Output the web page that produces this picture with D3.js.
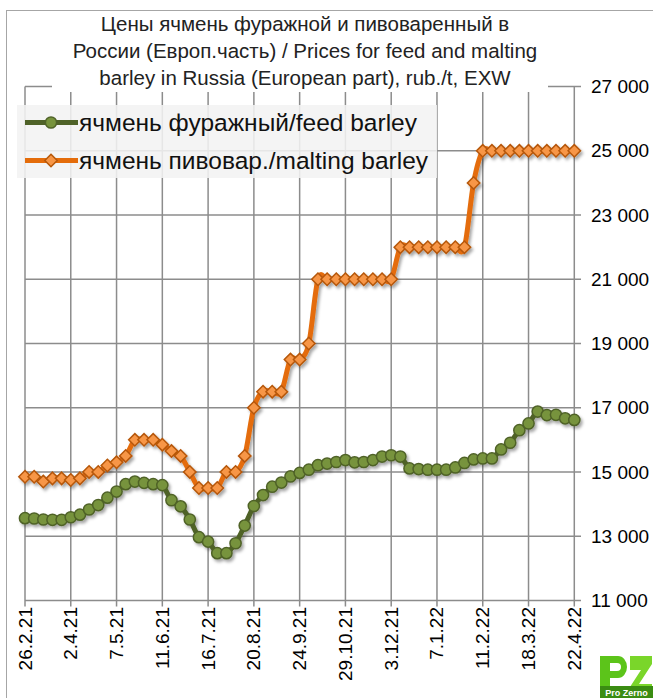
<!DOCTYPE html>
<html><head><meta charset="utf-8">
<script src="https://cdn.jsdelivr.net/npm/d3@7"></script>
<style>
html,body{margin:0;padding:0;background:#fff;}
svg{display:block;font-family:"Liberation Sans",Arial,sans-serif;}
</style></head>
<body><svg id="chart" width="653" height="698"></svg>
<script>
// ---- data (weekly, 26.2.21 .. 22.4.22) ----
const tickLabels = ["26.2.21","2.4.21","7.5.21","11.6.21","16.7.21","20.8.21","24.9.21","29.10.21","3.12.21","7.1.22","11.2.22","18.3.22","22.4.22"];
const feedBarley = [13560,13550,13520,13510,13510,13590,13670,13830,13970,14200,
  14390,14620,14700,14660,14620,14590,14120,13930,13520,12970,
  12830,12470,12470,12780,13330,13940,14280,14540,14670,14860,
  14970,15070,15210,15260,15310,15370,15300,15310,15370,15480,
  15520,15480,15110,15090,15070,15070,15070,15140,15280,15390,
  15420,15420,15700,15910,16300,16510,16880,16770,16780,16670,16620];
const maltingBarley = [14850,14850,14700,14800,14800,14750,14800,15000,15000,15200,
  15300,15500,16000,16000,16000,15850,15650,15500,15000,14500,
  14500,14500,15000,15000,15500,17000,17500,17500,17500,18500,
  18500,19000,21000,21000,21000,21000,21000,21000,21000,21000,
  21000,22000,22000,22000,22000,22000,22000,22000,22000,24000,
  25000,25000,25000,25000,25000,25000,25000,25000,25000,25000,25000];
const yTicks = [11000,13000,15000,17000,19000,21000,23000,25000,27000];
const titleLines = ["Цены ячмень фуражной и пивоваренный в","России (Европ.часть) / Prices for feed and malting","barley in Russia (European part), rub./t, EXW"];
const seriesNames = ["ячмень фуражный/feed barley","ячмень пивовар./malting barley"];

const svg = d3.select("#chart");
const x = d3.scaleLinear().domain([0, feedBarley.length-1]).range([25, 574.3]);
const y = d3.scaleLinear().domain([11000, 27000]).range([600.4, 86.6]);
const fmt = v => d3.format(",")(v).replace(/,/g, " ");

// outer border
svg.append("rect").attr("x",6.5).attr("y",10.5).attr("width",700).attr("height",700)
  .attr("fill","none").attr("stroke","#a6a6a6").attr("stroke-width",1);

const defs = svg.append("defs");
const f = defs.append("filter").attr("id","sh").attr("x","-20%").attr("y","-20%").attr("width","140%").attr("height","140%");
f.append("feDropShadow").attr("dx",2).attr("dy",2.5).attr("stdDeviation",1.6).attr("flood-color","#000").attr("flood-opacity",0.35);

const gridColor = "#8c8c8c";
const g = svg.append("g");
g.selectAll(".hg").data(yTicks).join("line")
  .attr("x1",25).attr("x2",581).attr("y1",d=>y(d)).attr("y2",d=>y(d))
  .attr("stroke",gridColor).attr("stroke-width",1.5);
const tickIdx = tickLabels.map((d,i)=>i*5);
g.selectAll(".vg").data(tickIdx).join("line")
  .attr("x1",d=>x(d)).attr("x2",d=>x(d)).attr("y1",y(27000)).attr("y2",y(11000)+6)
  .attr("stroke",gridColor).attr("stroke-width",1.5);

// right axis labels
svg.selectAll(".yl").data(yTicks).join("text")
  .attr("x",591).attr("y",d=>y(d)).attr("dy","0.35em")
  .attr("font-size",19).attr("fill","#000").text(d=>fmt(d));

// x labels
svg.selectAll(".xl").data(tickIdx).join("text")
  .attr("transform",d=>`translate(${x(d)+6.5},607) rotate(-90)`)
  .attr("text-anchor","end").attr("font-size",19).attr("fill","#000")
  .text((d,i)=>tickLabels[i]);

// title background + text
svg.append("rect").attr("x",52).attr("y",12).attr("width",496).attr("height",80).attr("fill","#fff");
svg.append("g").selectAll("text").data(titleLines).join("text")
  .attr("x",305).attr("y",(d,i)=>31+i*27).attr("text-anchor","middle")
  .attr("font-size",20.5).attr("fill","#222").text(d=>d);

// lines
const curve = d3.curveCatmullRom.alpha(0);
const line = d3.line().x((d,i)=>x(i)).y(d=>y(d)).curve(curve);
const series = [
  {vals: feedBarley, stroke:"#4f6228", fill:"#77933c", mstroke:"#4f6228", type:"circle"},
  {vals: maltingBarley, stroke:"#e46c0a", fill:"#f79646", mstroke:"#b65708", type:"diamond"}
];
const diamond = (cx,cy,r)=>`M${cx},${cy-r}L${cx+r},${cy}L${cx},${cy+r}L${cx-r},${cy}Z`;
series.forEach(s=>{
  const sg = svg.append("g").attr("filter","url(#sh)");
  sg.append("path").attr("d",line(s.vals)).attr("fill","none")
    .attr("stroke",s.stroke).attr("stroke-width",5).attr("stroke-linejoin","round");
  if (s.type==="circle") {
    sg.selectAll("circle").data(s.vals).join("circle")
      .attr("cx",(d,i)=>x(i)).attr("cy",d=>y(d)).attr("r",5.6)
      .attr("fill",s.fill).attr("stroke",s.mstroke).attr("stroke-width",1.5);
  } else {
    sg.selectAll("path.m").data(s.vals).join("path").attr("class","m")
      .attr("d",(d,i)=>diamond(x(i),y(d),6.2))
      .attr("fill",s.fill).attr("stroke",s.mstroke).attr("stroke-width",1.5);
  }
});

// legend
const lg = svg.append("g");
lg.append("rect").attr("x",17).attr("y",105).attr("width",420).attr("height",73)
  .attr("fill","#f2f2f2").attr("fill-opacity",0.88);
const ly = [122.5, 160.5];
series.forEach((s,i)=>{
  lg.append("line").attr("x1",25).attr("x2",78).attr("y1",ly[i]).attr("y2",ly[i])
    .attr("stroke",s.stroke).attr("stroke-width",5);
  if (s.type==="circle") lg.append("circle").attr("cx",51).attr("cy",ly[i]).attr("r",5.6)
    .attr("fill",s.fill).attr("stroke",s.mstroke).attr("stroke-width",1.5);
  else lg.append("path").attr("d",diamond(51,ly[i],6.2))
    .attr("fill",s.fill).attr("stroke",s.mstroke).attr("stroke-width",1.5);
  lg.append("text").attr("x",79).attr("y",ly[i]).attr("dy","0.36em")
    .attr("font-size",24.5).attr("fill","#111").text(seriesNames[i]);
});

// logo (shapes + caption)
const logo = svg.append("g").attr("transform","translate(598,652)");
logo.append("path").attr("fill","#5cc41a").attr("fill-rule","evenodd")
  .attr("d","M2,4 h18 a9,11 0 0 1 0,22 h-8 v20 h-10 Z M12,11 v8 h7 a4,4 0 0 0 0,-8 Z");
logo.append("path").attr("fill","#7ad62a")
  .attr("d","M32,4 h22 v8 l-13,20 h13 v14 h-24 v-8 l13,-20 h-11 Z");
logo.append("rect").attr("x",2).attr("y",34).attr("width",53).attr("height",12).attr("fill","#3a8c12");
logo.append("text").attr("x",28.5).attr("y",43.5).attr("text-anchor","middle").attr("font-size",9)
  .attr("fill","#fff").attr("font-weight","bold").text("Pro Zerno");
</script></body></html>
